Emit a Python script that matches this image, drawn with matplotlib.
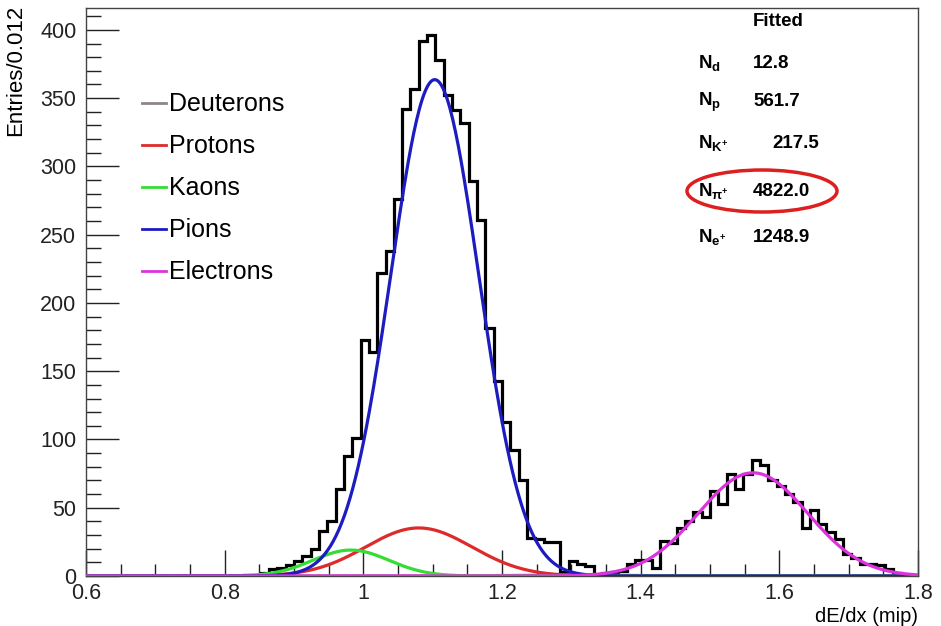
import numpy as np
import matplotlib
matplotlib.use("Agg")
import matplotlib.pyplot as plt
from matplotlib.patches import Ellipse
from matplotlib.ticker import MultipleLocator

plt.rcParams['font.family'] = ['Liberation Sans', 'DejaVu Sans']
plt.rcParams['mathtext.fontset'] = 'custom'
plt.rcParams['mathtext.rm'] = 'Liberation Sans'
plt.rcParams['mathtext.bf'] = 'Liberation Sans:bold'
plt.rcParams['mathtext.it'] = 'Liberation Sans:italic'

# histogram: 100 bins of 0.012 from 0.6 to 1.8
bin_width = 0.012
edges = np.round(0.6 + bin_width * np.arange(101), 4)
counts = [0] * 19 + [
    1, 0, 2, 5, 6, 8, 11, 15, 20, 33,        # bins 19-28
    40, 64, 88, 101, 173, 164, 222, 238, 276, 342,   # 29-38
    357, 392, 396, 378, 352, 341, 332, 289, 261, 182,  # 39-48
    143, 113, 92, 70, 28, 27, 25, 25, 3, 11,   # 49-58
    9, 7, 1, 2, 3, 4, 9, 12, 12, 6,            # 59-68
    26, 24, 35, 40, 47, 43, 62, 53, 75, 64,    # 69-78
    75, 85, 81, 70, 66, 60, 54, 35, 48, 38,    # 79-88
    32, 27, 16, 13, 9, 9, 8, 5, 2, 1,          # 89-98
    1,                                         # 99
]

# fitted components (yields from the fit box, shapes)
species = ['Deuterons', 'Protons', 'Kaons', 'Pions', 'Electrons']
colors = ['#8c8686', '#dd2a2a', '#33dd33', '#1c1cc0', '#dd33dd']
comp_mean = [1.30, 1.080, 0.982, 1.103, 1.562]
comp_sigma = [0.080, 0.0764, 0.0548, 0.0635, 0.0791]
comp_yield = [12.8, 561.7, 217.5, 4822.0, 1248.9]

fit_labels = [r'$\mathbf{N_{d}}$', r'$\mathbf{N_{p}}$', r'$\mathbf{N_{K^{+}}}$',
              r'$\mathbf{N_{\pi^{+}}}$', r'$\mathbf{N_{e^{+}}}$']
fit_values = ['12.8', '561.7', '217.5', '4822.0', '1248.9']

fig = plt.figure(figsize=(9.41, 6.26), dpi=100)
ax = fig.add_axes([86 / 941, 50 / 626, 832 / 941, 568 / 626])

ax.stairs(counts, edges, color='black', lw=2.3, zorder=2)

xs = np.linspace(0.6, 1.8, 600)
for name, c, mu, sg, n in zip(species, colors, comp_mean, comp_sigma, comp_yield):
    ys = n * bin_width / (sg * np.sqrt(2 * np.pi)) * np.exp(-0.5 * ((xs - mu) / sg) ** 2)
    ax.plot(xs, ys, color=c, lw=2.3, label=name, zorder=3)

ax.set_xlim(0.6, 1.8)
ax.set_ylim(0, 416)
ax.xaxis.set_major_locator(MultipleLocator(0.2))
ax.xaxis.set_minor_locator(MultipleLocator(0.05))
ax.yaxis.set_major_locator(MultipleLocator(50))
ax.yaxis.set_minor_locator(MultipleLocator(10))
ax.set_xticks([0.6, 0.8, 1.0, 1.2, 1.4, 1.6, 1.8])
ax.set_xticklabels(['0.6', '0.8', '1', '1.2', '1.4', '1.6', '1.8'])
ax.tick_params(which='both', direction='in', top=False, right=False,
               labelsize=15.5, colors='#222222')
ax.tick_params(axis='x', which='major', length=19, width=1, pad=5)
ax.tick_params(axis='x', which='minor', length=9, width=1)
ax.tick_params(axis='y', which='major', length=24, width=1, pad=7)
ax.tick_params(axis='y', which='minor', length=11, width=1)
for s in ax.spines.values():
    s.set_linewidth(1.0)
    s.set_color('#444444')

ax.set_xlabel('dE/dx (mip)', fontsize=14.5, loc='right', labelpad=2)
ax.set_ylabel('Entries/0.012', fontsize=16, loc='top')
ax.yaxis.set_label_coords(-0.072, 1.005)

leg = ax.legend(loc='upper left', bbox_to_anchor=(0.055, 0.869), frameon=False,
                fontsize=18, handlelength=0.95, handletextpad=0.12,
                labelspacing=0.72, borderaxespad=0)
for line in leg.get_lines():
    line.set_linewidth(2.0)

# fit result box
fig.text(753 / 941, 1 - 21 / 626, 'Fitted', fontsize=13.5, fontweight='bold',
         ha='left', va='center')
row_y = [63, 102, 143, 191, 237]
val_x = [753, 753, 772, 753, 753]
for lab, val, yy, vx in zip(fit_labels, fit_values, row_y, val_x):
    fig.text(698 / 941, 1 - yy / 626, lab, fontsize=13.5, ha='left', va='center')
    fig.text(vx / 941, 1 - yy / 626, val, fontsize=13.5, fontweight='bold',
             ha='left', va='center')

ell = Ellipse((762 / 941, 1 - 191 / 626), 150 / 941, 42 / 626,
              transform=fig.transFigure, fill=False, edgecolor='#dd1f1f', lw=2.5)
fig.add_artist(ell)

fig.savefig('out.png', dpi=100, facecolor='white')
